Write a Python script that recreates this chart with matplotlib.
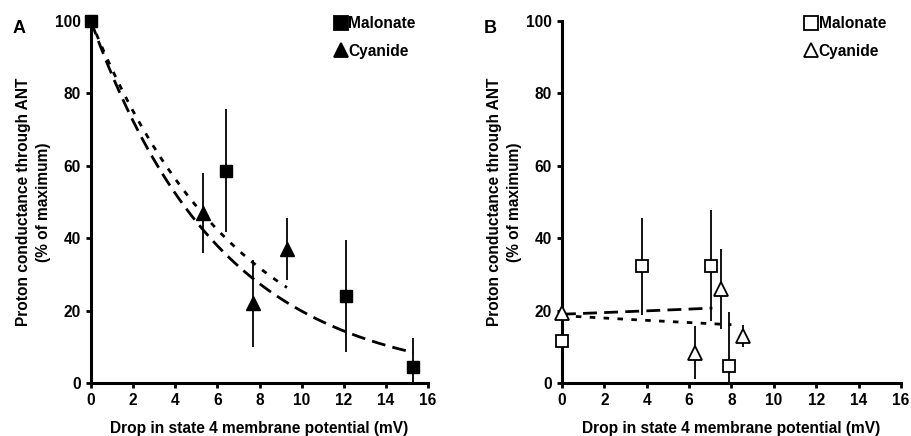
import numpy as np
import matplotlib
matplotlib.use("Agg")
import matplotlib.pyplot as plt
from matplotlib.lines import Line2D

plt.rcParams['font.family'] = ['Liberation Sans', 'DejaVu Sans']
plt.rcParams['font.weight'] = 'bold'

# panel A (filled markers)
a_mal_x = [0.0, 6.4, 12.1, 15.3]
a_mal_y = [100.0, 58.6, 24.0, 4.5]
a_mal_err = [0.0, 17.0, 15.5, 8.0]
a_cya_x = [5.3, 7.7, 9.3]
a_cya_y = [47.0, 22.0, 37.0]
a_cya_err = [11.0, 12.0, 8.5]

# panel B (open markers)
b_mal_x = [0.0, 3.8, 7.05, 7.9]
b_mal_y = [11.6, 32.2, 32.4, 4.8]
b_mal_err = [0.0, 13.5, 15.3, 14.7]
b_cya_x = [0.0, 6.3, 7.5, 8.55]
b_cya_y = [19.4, 8.4, 26.0, 13.0]
b_cya_err = [0.0, 7.3, 11.0, 3.0]

# trend lines in B: start value, rate, end x
b_mal_fit = (19.0, 0.012, 7.1)
b_cya_fit = (18.6, -0.018, 8.0)

FS = 11.2


def exp_fit(x, y, y0):
    # exponential trendline with intercept fixed at y0
    x = np.array(x, dtype=float)
    y = np.array(y, dtype=float)
    k = np.sum(x * np.log(y / y0)) / np.sum(x * x)
    return y0, k


def style_axes(ax, letter, lx):
    ax.set_xlim(0, 16)
    ax.set_ylim(0, 100)
    ax.set_xticks(range(0, 17, 2))
    ax.set_yticks(range(0, 101, 20))
    for s in ['top', 'right']:
        ax.spines[s].set_visible(False)
    for s in ['left', 'bottom']:
        ax.spines[s].set_linewidth(2.2)
    ax.tick_params(direction='out', length=3.5, width=2, labelsize=FS, pad=4)
    for lab in ax.get_xticklabels() + ax.get_yticklabels():
        lab.set_fontweight('bold')
    ax.set_xlabel("Drop in state 4 membrane potential (mV)", fontsize=FS,
                  fontweight='bold', labelpad=9)
    ax.set_ylabel("Proton conductance through ANT\n(% of maximum)", fontsize=FS,
                  fontweight='bold', labelpad=3, linespacing=1.4)
    fig.text(lx, 0.935, letter, fontsize=13, fontweight='bold', ha='left', va='center')


def add_legend(ax, x, filled):
    fc = 'black' if filled else 'white'
    handles = [Line2D([], [], marker='s', ls='none', mfc=fc, mec='black', mew=1.3, ms=10),
               Line2D([], [], marker='^', ls='none', mfc=fc, mec='black', mew=1.3, ms=10.5)]
    ax.legend(handles, ['Malonate', 'Cyanide'], loc='upper left',
              bbox_to_anchor=(x, 1.03), frameon=False, handlelength=0.75,
              handletextpad=0.1, labelspacing=0.8, borderaxespad=0,
              prop={'weight': 'bold', 'size': FS})


fig = plt.figure(figsize=(9.11, 4.36), dpi=100)
axA = fig.add_axes([0.0999, 0.1216, 0.370, 0.830])
axB = fig.add_axes([0.6169, 0.1216, 0.372, 0.830])

# ---- panel A
m0, mk = exp_fit(a_mal_x[1:], a_mal_y[1:], a_mal_y[0])
c0, ck = exp_fit(a_cya_x, a_cya_y, a_mal_y[0])
xs = np.linspace(0, max(a_mal_x), 200)
axA.plot(xs, m0 * np.exp(mk * xs), color='black', lw=2, linestyle=(0, (5, 2.6)), zorder=2)
xs = np.linspace(0, max(a_cya_x), 200)
axA.plot(xs, c0 * np.exp(ck * xs), color='black', lw=2, linestyle=(0, (2, 3)), zorder=2)
for art in [axA.errorbar(a_mal_x, a_mal_y, yerr=a_mal_err, fmt='s', color='black', ms=9,
                         elinewidth=1.3, capsize=0, zorder=3),
            axA.errorbar(a_cya_x, a_cya_y, yerr=a_cya_err, fmt='^', color='black', ms=10,
                         elinewidth=1.3, capsize=0, zorder=3)]:
    art[0].set_clip_on(False)
style_axes(axA, 'A', 0.014)
add_legend(axA, 0.705, True)

# ---- panel B
for (y0, k, xe), ls in [(b_mal_fit, (0, (5, 2.6))), (b_cya_fit, (0, (2, 3)))]:
    xs = np.linspace(0, xe, 100)
    axB.plot(xs, y0 * np.exp(k * xs), color='black', lw=2, linestyle=ls, zorder=2)
for art in [axB.errorbar(b_mal_x, b_mal_y, yerr=b_mal_err, fmt='s', color='black',
                         mfc='white', mec='black', mew=1.3, ms=9, elinewidth=1.3,
                         capsize=0, zorder=3),
            axB.errorbar(b_cya_x, b_cya_y, yerr=b_cya_err, fmt='^', color='black',
                         mfc='white', mec='black', mew=1.3, ms=10, elinewidth=1.3,
                         capsize=0, zorder=3)]:
    art[0].set_clip_on(False)
style_axes(axB, 'B', 0.531)
add_legend(axB, 0.70, False)

fig.savefig('out.png', dpi=100)
